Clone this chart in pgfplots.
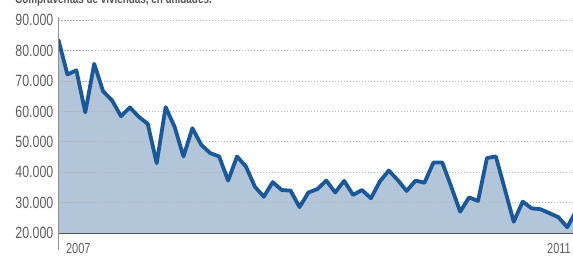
\documentclass[border=0pt]{standalone}
\usepackage{fontspec}
\setmainfont{Liberation Sans}
\newfontfamily\cond[FakeStretch=0.76]{Liberation Sans}
\usepackage{pgfplots}
\pgfplotsset{compat=1.18}
\definecolor{linec}{RGB}{24,88,155}
\definecolor{fillc}{RGB}{178,197,217}
\definecolor{gridc}{RGB}{180,180,180}
\definecolor{labc}{RGB}{95,95,95}
\definecolor{axc}{RGB}{85,85,85}
\pgfplotstableread{
x y
0 83400
1 72100
2 73500
3 59700
4 75600
5 66600
6 63600
7 58400
8 61300
9 58200
10 55900
11 43000
12 61400
13 55000
14 45200
15 54500
16 49000
17 46300
18 45200
19 37300
20 45200
21 41900
22 35300
23 32000
24 36800
25 34200
26 34000
27 28600
28 33400
29 34500
30 37300
31 33400
32 37200
33 32600
34 34200
35 31500
36 37000
37 40600
38 37500
39 33900
40 37300
41 36600
42 43200
43 43200
44 35300
45 27100
46 31800
47 30600
48 44700
49 45200
50 34500
51 23800
52 30400
53 28200
54 27900
55 26600
56 25300
57 22000
58 27400
}\sales
\begin{document}
\begin{tikzpicture}
\useasboundingbox (-58.5pt,-21.7pt) rectangle (514.5pt,233.3pt);
\clip (-58.5pt,-21.7pt) rectangle (514.5pt,233.3pt);
\node[anchor=base west, inner sep=0pt, text=axc] at (-43.5pt,230pt)
  {\cond\bfseries\fontsize{13}{15}\selectfont Compraventas de viviendas, en unidades.};
\begin{axis}[
  at={(0pt,0pt)}, anchor=south west,
  scale only axis, width=514.5pt, height=216.4pt,
  xmin=0, xmax=57.64, ymin=20000, ymax=91000,
  axis lines*=left,
  axis on top,
  scaled y ticks=false,
  x axis line style={draw=axc, line width=1.5pt},
  y axis line style={draw=gridc!80!black, line width=0.8pt},
  ytick={20000,30000,40000,50000,60000,70000,80000,90000},
  yticklabels={20.000,30.000,40.000,50.000,60.000,70.000,80.000,90.000},
  yticklabel style={anchor=east, inner sep=0pt, xshift=-5pt, text=labc,
    font=\cond\fontsize{16.3}{18}\selectfont},
  xtick={2.22,56.07},
  xticklabels={2007,2011},
  xticklabel style={anchor=center, inner sep=0pt, yshift=-15pt, text=labc,
    font=\cond\fontsize{14.5}{16}\selectfont},
  major tick length=0pt,
]
\addplot[fill=fillc, draw=none] table[x=x,y=y]{\sales} \closedcycle;
\foreach \v in {30000,40000,50000,60000,70000,80000,90000}{
  \edef\tmp{\noexpand\draw[gridc, line width=0.8pt, dash pattern=on 1.5pt off 1.5pt] (axis cs:0,\v) -- (axis cs:57.64,\v);}
  \tmp
}
\addplot[linec, line width=3.8pt, line join=round, line cap=round] table[x=x,y=y]{\sales};
\end{axis}
\draw[gridc!80!black, line width=0.8pt] (0pt,0pt) -- (0pt,-17pt);
\end{tikzpicture}
\end{document}
